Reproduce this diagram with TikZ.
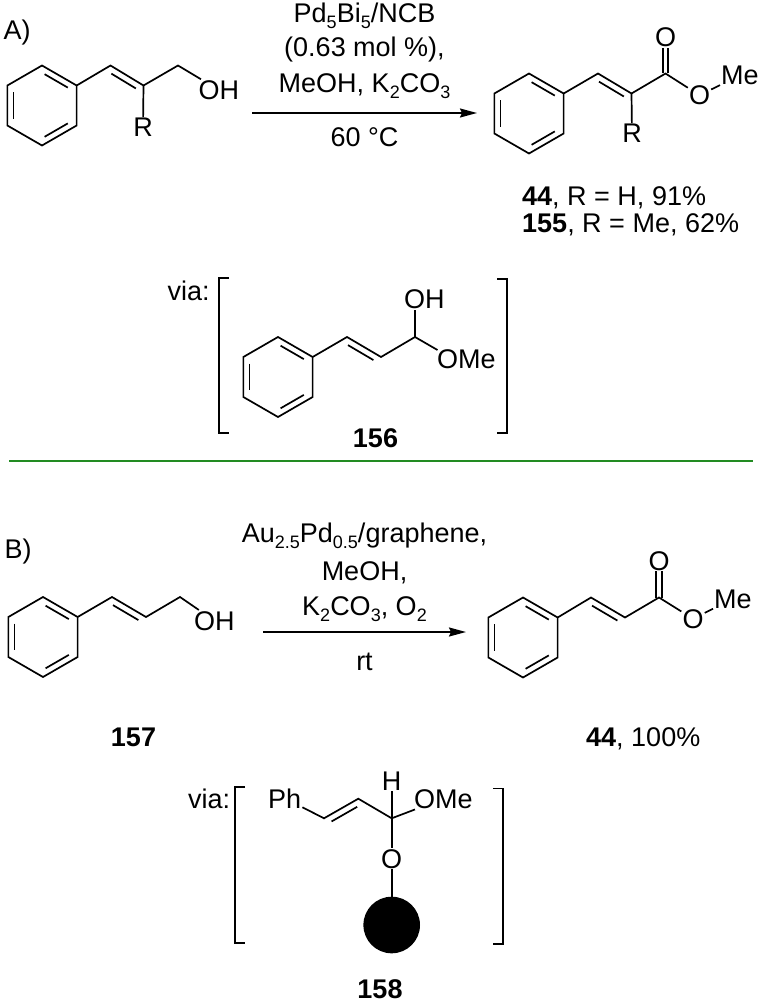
\documentclass[tikz,border=0pt]{standalone}
\usepackage{fontspec}
\setmainfont{Liberation Sans}
\usetikzlibrary{arrows.meta,calc}
\definecolor{sepgreen}{RGB}{34,139,34}
\newcommand\sub[1]{\raisebox{-6pt}{\fontsize{18}{18}\selectfont #1}}
\newcommand\dbl[2]{\draw[bond,shorten <=5pt,shorten >=5pt] ($(#1)!6.5pt!-90:(#2)$) -- ($(#2)!6.5pt!90:(#1)$);}
\tikzset{
  bond/.style={line width=1.7pt},
  bracket/.style={line width=1.7pt},
  rxnarrow/.style={line width=1.7pt,-{Stealth[length=17pt,width=9pt,inset=2pt]}},
  benz/.pic={
    \draw[bond] (0,-40)--(34.64,-20)--(34.64,20)--(0,40)--(-34.64,20)--(-34.64,-20)--cycle;
    \draw[bond,shorten <=3pt,shorten >=3pt] (-28.4,-16.4)--(-28.4,16.4);
    \draw[bond,shorten <=3pt,shorten >=3pt] (0,-32.8)--(28.4,-16.4);
    \draw[bond,shorten <=3pt,shorten >=3pt] (28.4,16.4)--(0,32.8);
  }
}
\begin{document}
\begin{tikzpicture}[x=1pt,y={(0pt,-1pt)},every node/.style={inner sep=1pt,font=\fontsize{27}{32}\selectfont}]
\useasboundingbox (0,0) rectangle (762,1003);
% ---------------- A ----------------
\node (lblA) [anchor=base west] at (2.5,40) {A)};
\node (rA1) [anchor=base] at (364.5,23) {Pd\sub{5}Bi\sub{5}/NCB};
\node (rA2) [anchor=base] at (364.5,57) {(0.63 mol \%),};
\node (rA3) [anchor=base] at (364.5,93) {MeOH, K\sub{2}CO\sub{3}};
\node (rA4) [anchor=base] at (364.5,147) {60 °C};
\coordinate (arA1) at (252,113);
\coordinate (arA2) at (477,113);
\draw[rxnarrow] (arA1) -- (arA2);
% starting material A
\pic (ringA) at (42,105.5) {benz};
\coordinate (aUR) at (76.64,85.5);
\coordinate (a1) at (110.5,65.5);
\coordinate (a2) at (143.5,85.5);
\coordinate (a3) at (178,65.5);
\node (aOH) [anchor=base west] at (197.5,99.3) {OH};
\node (aR) [anchor=base] at (143,137) {R};
\draw[bond] (aUR)--(a1)--(a2)--(a3)--(aOH);
\draw[bond] (a2)--(aR);
\dbl{a1}{a2}
% product A
\pic (ringP) at (529,113.5) {benz};
\coordinate (pUR) at (563.64,93.5);
\coordinate (p1) at (598,73.5);
\coordinate (p2) at (631.5,93.5);
\coordinate (p3) at (665.5,73.5);
\node (pR) [anchor=base] at (632,143) {R};
\node (pO1) [anchor=base] at (665.5,46.5) {O};
\node (pO2) [anchor=base] at (699.5,104.5) {O};
\node (pMe) [anchor=base west] at (720,84.5) {Me};
\draw[bond] (pUR)--(p1)--(p2)--(p3)--(pO2);
\draw[bond] (p2)--(pR);
\draw[bond] ($(p3)+(-2.8,0)$) -- ($(pO1.south)+(-2.8,0)$);
\draw[bond] ($(p3)+(2.8,0)$) -- ($(pO1.south)+(2.8,0)$);
\draw[bond] (pO2)--(pMe);
\dbl{p1}{p2}
\node (c44) [anchor=base west] at (521,205) {\textbf{44}, R = H, 91\%};
\node (c155) [anchor=base west] at (521,232) {\textbf{155}, R = Me, 62\%};
% via 156
\node (via1) [anchor=base west] at (166.5,300) {via:};
\draw[bracket] (229,278) -- (219,278) -- (219,433) -- (229,433);
\draw[bracket] (497,279) -- (507,279) -- (507,433) -- (497,433);
\pic (ring156) at (278,377) {benz};
\coordinate (c0) at (312.64,357);
\coordinate (c1) at (347,337);
\coordinate (c2) at (381,357);
\coordinate (c3) at (415,337);
\coordinate (c4) at (437.5,350);
\node (oh156) [anchor=base west] at (403,308.5) {OH};
\node (ome156) [anchor=base west] at (436,368.5) {OMe};
\draw[bond] (c0)--(c1)--(c2)--(c3)--(c4);
\draw[bond] (c3) -- (c3 |- oh156.south);
\dbl{c1}{c2}
\node (n156) [anchor=base] at (375.5,447) {\textbf{156}};
% separator
\coordinate (g1) at (9,461);
\coordinate (g2) at (753,461);
\draw[sepgreen,line width=2pt] (g1) -- (g2);
% ---------------- B ----------------
\node (lblB) [anchor=base west] at (3.5,558) {B)};
\node (rB1) [anchor=base] at (364.5,542) {Au\sub{2.5}Pd\sub{0.5}/graphene,};
\node (rB2) [anchor=base] at (364.5,580) {MeOH,};
\node (rB3) [anchor=base] at (364.5,615) {K\sub{2}CO\sub{3}, O\sub{2}};
\node (rB4) [anchor=base] at (364.5,670) {rt};
\coordinate (arB1) at (263,632);
\coordinate (arB2) at (466,632);
\draw[rxnarrow] (arB1) -- (arB2);
% starting material B
\pic (ringB) at (43,637) {benz};
\coordinate (bUR) at (77.64,617);
\coordinate (b1) at (112,597);
\coordinate (b2) at (146,617);
\coordinate (b3) at (180,597);
\node (bOH) [anchor=base west] at (193,630) {OH};
\draw[bond] (bUR)--(b1)--(b2)--(b3)--(bOH);
\dbl{b1}{b2}
\node (n157) [anchor=base] at (133.5,746) {\textbf{157}};
% product B
\pic (ringQ) at (523,637.5) {benz};
\coordinate (qUR) at (557.64,617.5);
\coordinate (q1) at (591,597.5);
\coordinate (q2) at (625,617.5);
\coordinate (q3) at (659,597.5);
\node (qO1) [anchor=base] at (659,570) {O};
\node (qO2) [anchor=base] at (693,628) {O};
\node (qMe) [anchor=base west] at (713,608) {Me};
\draw[bond] (qUR)--(q1)--(q2)--(q3)--(qO2);
\draw[bond] ($(q3)+(-2.8,0)$) -- ($(qO1.south)+(-2.8,0)$);
\draw[bond] ($(q3)+(2.8,0)$) -- ($(qO1.south)+(2.8,0)$);
\draw[bond] (qO2)--(qMe);
\dbl{q1}{q2}
\node (n44b) [anchor=base west] at (585,746) {\textbf{44}, 100\%};
% via 158
\node (via2) [anchor=base west] at (187,808) {via:};
\draw[bracket] (245,787) -- (235,787) -- (235,943) -- (245,943);
\draw[bracket] (493,788.5) -- (503,788.5) -- (503,944) -- (493,944);
\node (ph) [anchor=base west] at (267,808) {Ph};
\coordinate (d1) at (324,818.3);
\coordinate (d2) at (358.3,798.7);
\coordinate (dC) at (391.7,818.3);
\node (hB) [anchor=base] at (391.7,790) {H};
\node (omeB) [anchor=base west] at (412.8,808) {OMe};
\node (oB) [anchor=base] at (391.7,868) {O};
\node (ball) [circle,fill=black,minimum size=56.6pt,inner sep=0pt] at (391.7,925) {};
\draw[bond] (ph)--(d1)--(d2)--(dC)--(omeB);
\draw[bond] (dC) -- (dC |- hB.south);
\draw[bond] (dC) -- (oB);
\draw[bond] (oB) -- (ball);
\dbl{d1}{d2}
\node (n158) [anchor=base] at (380,998) {\textbf{158}};
\end{tikzpicture}
\end{document}
